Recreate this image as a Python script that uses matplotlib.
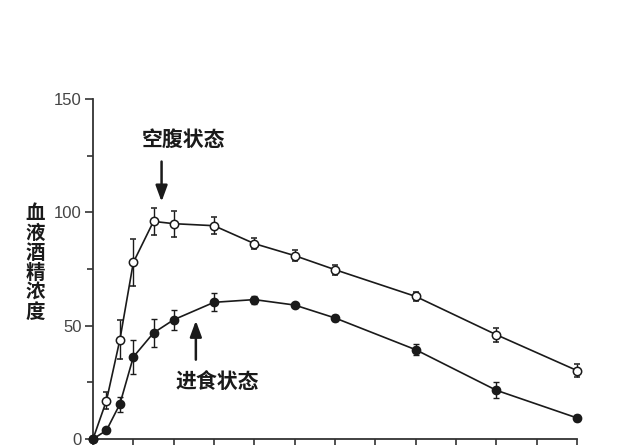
import numpy as np
import matplotlib
matplotlib.use("Agg")
import matplotlib.pyplot as plt
from matplotlib.ticker import MultipleLocator

plt.rcParams['font.family'] = ['Liberation Sans', 'Noto Sans CJK SC', 'DejaVu Sans']

# time in minutes
time_min = [0, 10, 20, 30, 45, 60, 90, 120, 150, 180, 240, 300, 360]

# fasting state (open circles)
fasting = [0, 16.9, 43.8, 77.9, 96.0, 95.0, 94.1, 86.2, 80.9, 74.7, 62.9, 46.0, 30.2]
fasting_err = [0, 3.8, 8.5, 10.4, 5.9, 5.7, 3.8, 2.4, 2.3, 2.2, 2.0, 3.0, 3.0]

# fed state (filled circles)
fed = [0, 3.8, 15.4, 36.2, 46.8, 52.6, 60.3, 61.5, 59.1, 53.4, 39.4, 21.5, 9.3]
fed_err = [0, 1.0, 3.3, 7.6, 6.1, 4.4, 4.0, 1.8, 1.0, 1.5, 2.5, 3.5, 1.5]

ylabel_text = "血\n液\n酒\n精\n浓\n度"
fasting_label = "空腹状态"
fed_label = "进食状态"

ink = '#1a1a1a'
cjk = ['Noto Sans CJK SC', 'DejaVu Sans']

fig = plt.figure(figsize=(6.4, 4.45), dpi=100, facecolor='white')
ax = fig.add_axes([93 / 640, 6 / 445, 484 / 640, 340 / 445])

ax.errorbar(time_min, fasting, yerr=fasting_err, color=ink, lw=1.2, marker='o',
            ms=6, mfc='white', mec=ink, mew=1.1, capsize=2.5, elinewidth=1.0,
            capthick=1.0, clip_on=False, zorder=3)
ax.errorbar(time_min, fed, yerr=fed_err, color=ink, lw=1.2, marker='o',
            ms=6, mfc=ink, mec=ink, mew=1.0, capsize=2.5, elinewidth=1.0,
            capthick=1.0, clip_on=False, zorder=4)

ax.set_xlim(0, 360)
ax.set_ylim(0, 150)
ax.xaxis.set_major_locator(MultipleLocator(30))
ax.yaxis.set_major_locator(MultipleLocator(50))
ax.yaxis.set_minor_locator(MultipleLocator(25))
ax.set_xticklabels([])

for side in ['top', 'right']:
    ax.spines[side].set_visible(False)
for side in ['left', 'bottom']:
    ax.spines[side].set_linewidth(1.3)
    ax.spines[side].set_color('#333333')

ax.tick_params(axis='both', which='major', length=6, width=1.2, color='#333333',
               labelsize=12, labelcolor='#444444', pad=2)
ax.tick_params(axis='y', which='minor', length=4, width=1.2, color='#333333')

# vertical y label, one character per line
fig.text(35 / 640, 1 - 263 / 445, ylabel_text, ha='center', va='center',
         fontsize=14, fontweight='bold', linespacing=1.05, color=ink, family=cjk)

# annotations
ax.text(67.5, 132, fasting_label, ha='center', va='center', fontsize=15,
        fontweight='bold', color=ink, family=cjk)
ax.annotate('', xy=(51, 104.7), xytext=(51, 122.4),
            arrowprops=dict(arrowstyle='-|>,head_length=0.6,head_width=0.22',
                            color=ink, lw=1.8, mutation_scale=16,
                            shrinkA=0, shrinkB=0))

ax.text(92.8, 24.8, fed_label, ha='center', va='center', fontsize=15,
        fontweight='bold', color=ink, family=cjk)
ax.annotate('', xy=(76.5, 52.2), xytext=(76.5, 35),
            arrowprops=dict(arrowstyle='-|>,head_length=0.6,head_width=0.22',
                            color=ink, lw=1.8, mutation_scale=16,
                            shrinkA=0, shrinkB=0))

fig.savefig('out.png', dpi=100, facecolor='white')
